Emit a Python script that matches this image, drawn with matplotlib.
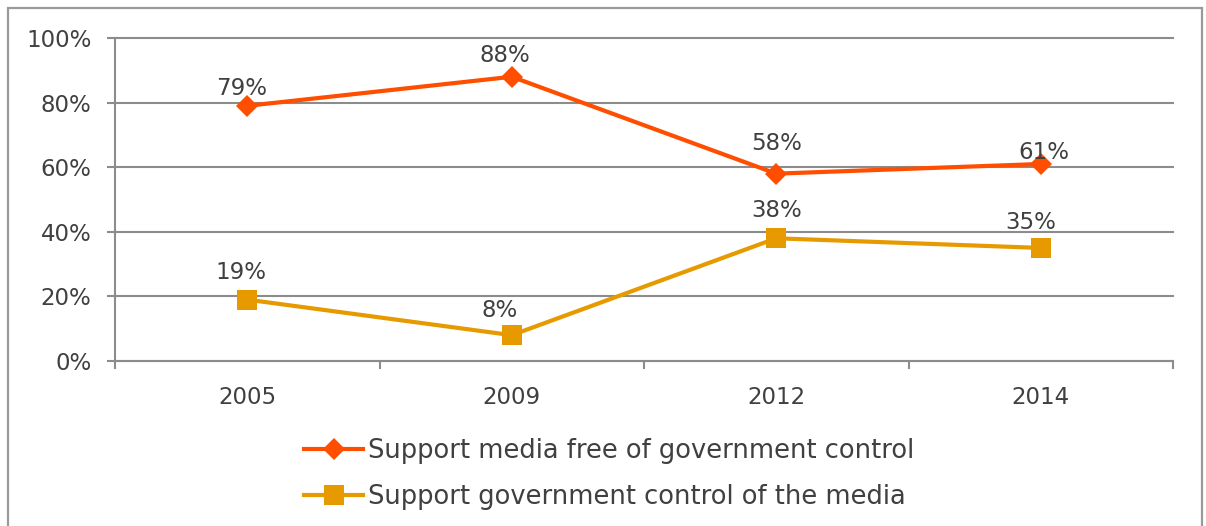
import matplotlib
matplotlib.use("Agg")
import matplotlib.pyplot as plt
from matplotlib.patches import Rectangle
from matplotlib.ticker import FixedLocator, NullFormatter

years = ["2005", "2009", "2012", "2014"]
free_media = [79, 88, 58, 61]
gov_control = [19, 8, 38, 35]
series_names = ["Support media free of government control",
                "Support government control of the media"]
y_ticks = [0, 20, 40, 60, 80, 100]

# label placement (pixel offsets from each marker: right, up)
free_label_offsets = [(-6, 17), (-7, 21), (0, 30), (3, 11)]
gov_label_offsets = [(-6, 27), (-12, 25), (0, 28), (-10, 25)]

plt.rcParams["font.family"] = ["DejaVu Sans"]
text_color = "#404040"
grid_color = "#8c8c8c"
c_free = "#FF4E00"
c_gov = "#E69A00"

fig = plt.figure(figsize=(12.06, 5.26), dpi=100)
fig.patch.set_facecolor("white")

# chart frame
fig.patches.append(Rectangle((8 / 1206, -0.05), 1194 / 1206, 1 - 8 / 526 + 0.05,
                             transform=fig.transFigure, fill=False,
                             edgecolor="#9a9a9a", linewidth=1.6))

ax = fig.add_axes([115 / 1206, 1 - 361 / 526, 1058 / 1206, 323 / 526])
ax.set_facecolor("white")

x = [i + 0.5 for i in range(len(years))]
ax.set_xlim(0, len(years))
ax.set_ylim(0, 100)

ax.plot(x, free_media, color=c_free, lw=3, marker="D", ms=11,
        markeredgewidth=0, label=series_names[0], zorder=4)
ax.plot(x, gov_control, color=c_gov, lw=3, marker="s", ms=14,
        markeredgewidth=0, label=series_names[1], zorder=4)

px = 72 / 100
for vals, offs in ((free_media, free_label_offsets), (gov_control, gov_label_offsets)):
    for xi, v, (dx, dy) in zip(x, vals, offs):
        ax.annotate(f"{v}%", (xi, v), xytext=(dx * px, dy * px),
                    textcoords="offset points", ha="center", va="center",
                    fontsize=16.5, color=text_color, zorder=5)

# axes styling
for s in ["top", "right"]:
    ax.spines[s].set_visible(False)
for s in ["left", "bottom"]:
    ax.spines[s].set_color(grid_color)
    ax.spines[s].set_linewidth(1.5)

ax.set_yticks(y_ticks)
ax.set_yticklabels([f"{t}%" for t in y_ticks])
ax.yaxis.grid(True, color=grid_color, lw=1.5)
for gl in ax.get_ygridlines():
    gl.set_clip_on(False)
ax.set_axisbelow(True)
ax.tick_params(axis="y", length=6, width=1.5, color=grid_color, labelsize=16.5,
               labelcolor=text_color, pad=11)

ax.xaxis.set_major_locator(FixedLocator(range(len(years) + 1)))
ax.xaxis.set_major_formatter(NullFormatter())
ax.xaxis.set_minor_locator(FixedLocator(x))
ax.set_xticklabels(years, minor=True)
ax.tick_params(axis="x", which="major", length=6, width=1.5, color=grid_color)
ax.tick_params(axis="x", which="minor", length=0, labelsize=16.5,
               labelcolor=text_color, pad=18)

leg = fig.legend(loc="center left", bbox_to_anchor=(304 / 1206, 1 - 474 / 526),
                 frameon=False, fontsize=18.5, labelcolor=text_color,
                 handlelength=2.3, handletextpad=0.2, labelspacing=0.8,
                 borderaxespad=0, borderpad=0)

fig.savefig("out.png", dpi=100, facecolor="white")
